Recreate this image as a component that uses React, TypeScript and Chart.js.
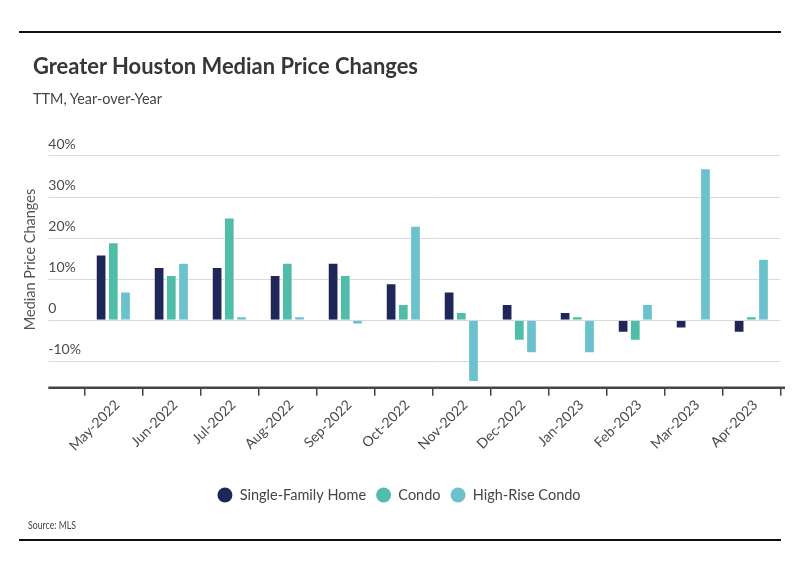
import React, { useEffect, useRef } from "react";
import { Chart, registerables } from "chart.js";

Chart.register(...registerables);

const CATEGORIES = [
  "May-2022", "Jun-2022", "Jul-2022", "Aug-2022", "Sep-2022", "Oct-2022",
  "Nov-2022", "Dec-2022", "Jan-2023", "Feb-2023", "Mar-2023", "Apr-2023",
];
const SINGLE_FAMILY = [16, 13, 13, 11, 14, 9, 7, 4, 2, -3, -2, -3];
const CONDO = [19, 11, 25, 14, 11, 4, 2, -5, 1, -5, 0, 1];
const HIGH_RISE = [7, 14, 1, 1, -1, 23, -15, -8, -8, 4, 37, 15];
const SERIES_NAMES = ["Single-Family Home", "Condo", "High-Rise Condo"];
const SERIES_COLORS = ["#1f2758", "#50bda9", "#6bc2cc"];
const Y_TICK_VALUES = [-10, 0, 10, 20, 30, 40];
const Y_TICK_LABELS = ["-10%", "0", "10%", "20%", "30%", "40%"];

const FONT = "Lato, 'Open Sans', sans-serif";

const axisLinePlugin = {
  id: "axisLine",
  afterDraw(chart: any) {
    const { ctx, chartArea } = chart;
    ctx.save();
    ctx.strokeStyle = "#444444";
    ctx.lineWidth = 2.5;
    ctx.beginPath();
    ctx.moveTo(chartArea.left - 36, chartArea.bottom);
    ctx.lineTo(chartArea.right + 4.7, chartArea.bottom);
    ctx.stroke();
    ctx.restore();
  },
};

export default function App() {
  const ref = useRef<HTMLCanvasElement | null>(null);
  const titleRef = useRef<HTMLDivElement | null>(null);
  const subRef = useRef<HTMLDivElement | null>(null);
  const srcRef = useRef<HTMLDivElement | null>(null);

  useEffect(() => {
    const fit = (el: HTMLDivElement | null, target: number) => {
      if (!el) return;
      el.style.transform = "none";
      const w = el.getBoundingClientRect().width;
      if (w > 0) {
        el.style.transformOrigin = "left top";
        el.style.transform = `scaleX(${target / w})`;
      }
    };
    fit(titleRef.current, 385);
    fit(subRef.current, 129);
    fit(srcRef.current, 48);
  }, []);

  useEffect(() => {
    if (!ref.current) return;
    Chart.defaults.font.family = FONT;
    const values = [SINGLE_FAMILY, CONDO, HIGH_RISE];
    const chart = new Chart(ref.current, {
      type: "bar",
      data: {
        labels: CATEGORIES,
        datasets: values.map((v, i) => ({
          label: SERIES_NAMES[i],
          data: v,
          backgroundColor: SERIES_COLORS[i],
          borderColor: "rgba(255,255,255,0.4)",
          borderWidth: 1,
          categoryPercentage: 0.63,
          barPercentage: 0.88,
        })),
      },
      options: {
        animation: false,
        responsive: false,
        layout: { padding: { top: 131.3, left: 17.7, right: 18.7, bottom: 62.75 } },
        plugins: {
          tooltip: { enabled: false },
          legend: {
            position: "bottom",
            align: "center",
            labels: {
              usePointStyle: true,
              pointStyle: "circle",
              boxHeight: 10.6,
              pointStyleWidth: 15,
              padding: 10,
              color: "#444444",
              font: { size: 14.5, family: FONT },
              generateLabels(chart: any) {
                const items = Chart.defaults.plugins.legend.labels.generateLabels(chart);
                return items.map((it: any) => ({ ...it, lineWidth: 0, strokeStyle: "rgba(0,0,0,0)" }));
              },
            },
          },
        },
        scales: {
          x: {
            offset: true,
            grid: {
              offset: true,
              drawOnChartArea: false,
              drawTicks: true,
              tickLength: 8,
              color: "#444444",
              lineWidth: 1.5,
            },
            border: { display: false },
            ticks: {
              autoSkip: false,
              minRotation: 45,
              maxRotation: 45,
              padding: 1,
              labelOffset: 4,
              color: "#4a4a4a",
              font: { size: 14, family: FONT },
            },
            afterFit(scale: any) {
              scale.height = 90.05;
            },
          },
          y: {
            min: -16.4,
            max: 46,
            grid: { color: "#d9d9d9", lineWidth: 1, drawTicks: true, tickLength: 36 },
            border: { display: false },
            afterBuildTicks(scale: any) {
              scale.ticks = Y_TICK_VALUES.map((v) => ({ value: v }));
            },
            ticks: {
              mirror: true,
              padding: -36,
              labelOffset: -11.5,
              color: "#4a4a4a",
              font: { size: 14, family: FONT },
              callback(value: any) {
                const idx = Y_TICK_VALUES.indexOf(Number(value));
                return idx >= 0 ? Y_TICK_LABELS[idx] : "";
              },
            },
            title: {
              display: true,
              text: "Median Price Changes",
              color: "#555555",
              font: { size: 14.5, family: FONT },
              padding: { top: 4, bottom: 4 },
            },
            afterFit(scale: any) {
              scale.width = 66.6;
            },
          },
        },
      },
      plugins: [axisLinePlugin],
    });
    return () => chart.destroy();
  }, []);

  const rule: React.CSSProperties = {
    position: "absolute",
    left: 19,
    width: 762,
    height: 2,
    background: "#111111",
  };

  return (
    <div style={{ position: "absolute", left: 0, top: 0, width: 799, height: 575, background: "#ffffff", overflow: "hidden", fontFamily: FONT }}>
      <canvas ref={ref} width={799} height={575} style={{ position: "absolute", left: 0, top: 0, width: 799, height: 575 }} />
      <div style={{ ...rule, top: 31 }} />
      <div ref={titleRef} style={{ position: "absolute", left: 33, top: 54, fontSize: 23, lineHeight: "23px", fontWeight: 700, color: "#363636", whiteSpace: "nowrap" }}>
        Greater Houston Median Price Changes
      </div>
      <div ref={subRef} style={{ position: "absolute", left: 33, top: 90.8, fontSize: 15, lineHeight: "15px", color: "#444444", whiteSpace: "nowrap" }}>
        TTM, Year-over-Year
      </div>
      <div ref={srcRef} style={{ position: "absolute", left: 28, top: 519, fontSize: 11, lineHeight: "11px", color: "#444444", whiteSpace: "nowrap" }}>
        Source: MLS
      </div>
      <div style={{ ...rule, top: 539 }} />
    </div>
  );
}
